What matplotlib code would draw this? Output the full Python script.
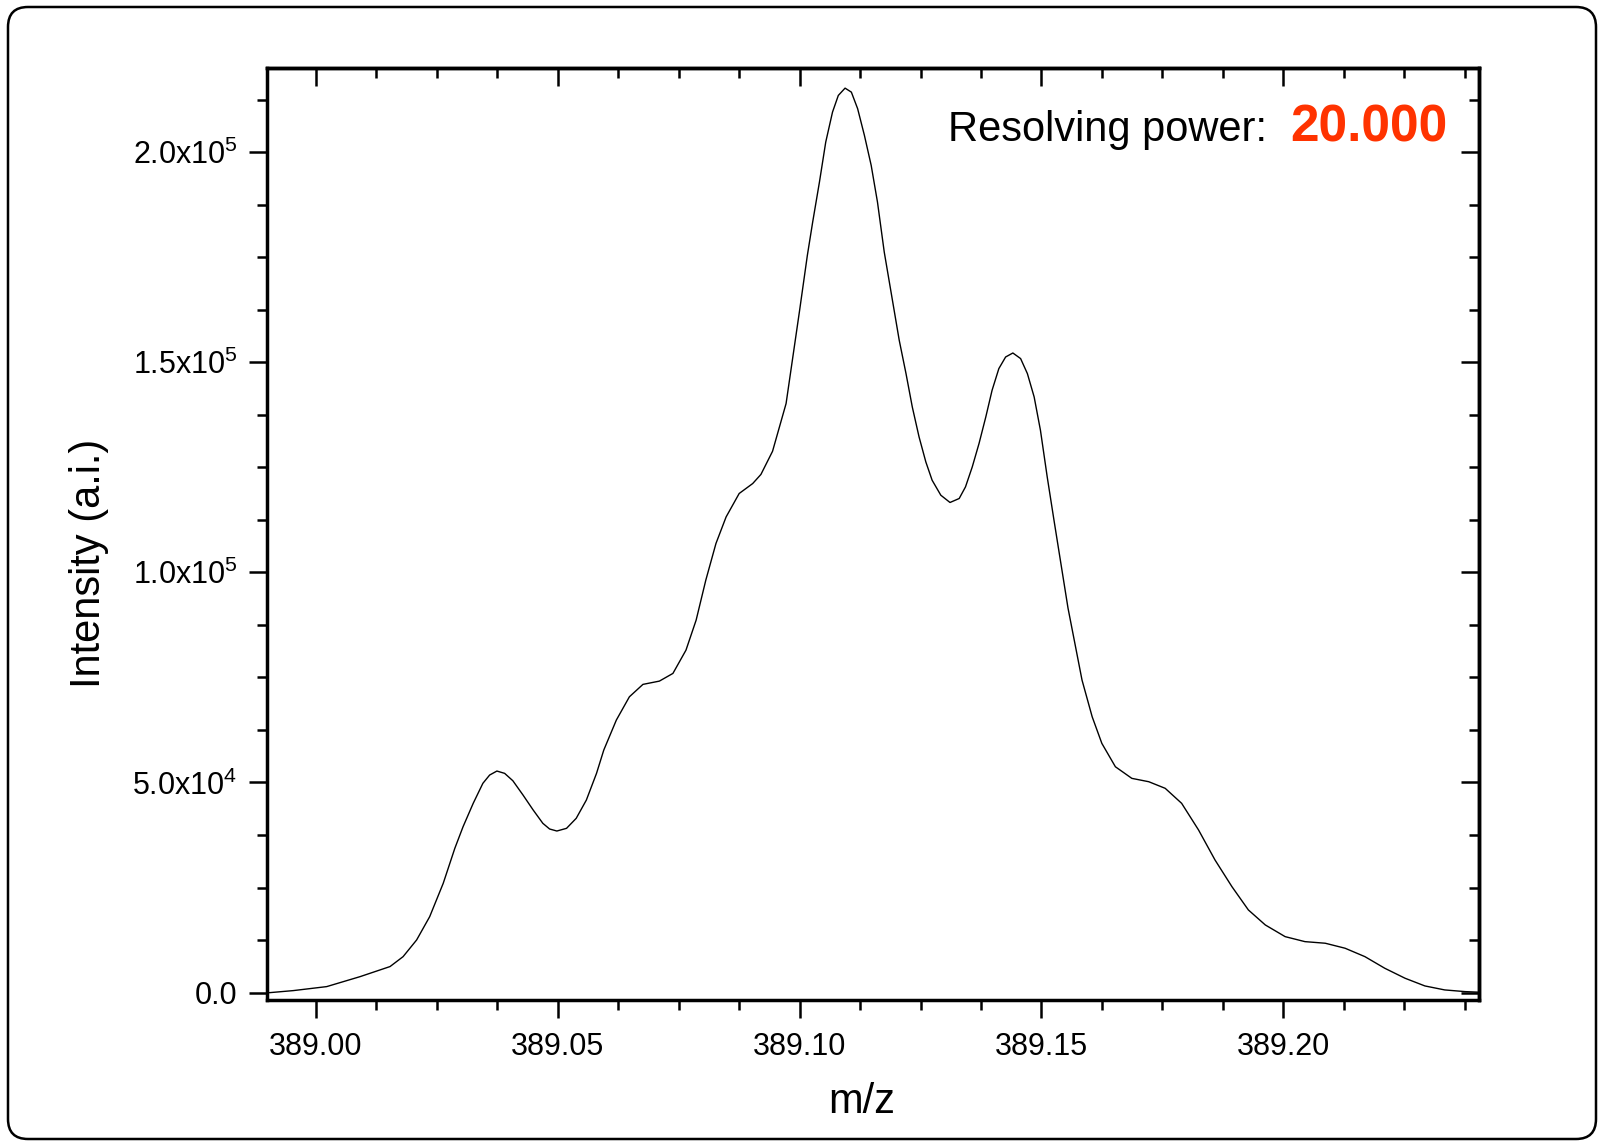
import matplotlib
matplotlib.use("Agg")
import matplotlib.pyplot as plt
from matplotlib.patches import FancyBboxPatch
from matplotlib.ticker import MultipleLocator, FixedLocator, FixedFormatter

plt.rcParams['font.family'] = ['Liberation Sans', 'DejaVu Sans']
plt.rcParams['mathtext.fontset'] = 'custom'
plt.rcParams['mathtext.rm'] = 'Liberation Sans'
plt.rcParams['mathtext.it'] = 'Liberation Sans'

# m/z values and intensities
mz = [388.9898, 388.9905, 388.9953, 389.0022, 389.0091, 389.0153, 389.0180,
      389.0208, 389.0235, 389.0263, 389.0287, 389.0304, 389.0325, 389.0345,
      389.0359, 389.0374, 389.0390, 389.0407, 389.0428, 389.0449, 389.0469,
      389.0483, 389.0498, 389.0518, 389.0538, 389.0559, 389.0580, 389.0595,
      389.0621, 389.0648, 389.0676, 389.0710, 389.0738, 389.0765, 389.0786,
      389.0806, 389.0827, 389.0848, 389.0875, 389.0903, 389.0920, 389.0944,
      389.0972, 389.1000, 389.1016, 389.1027, 389.1041, 389.1054, 389.1068,
      389.1080, 389.1094, 389.1107, 389.1120, 389.1134, 389.1148, 389.1161,
      389.1175, 389.1206, 389.1220, 389.1233, 389.1247, 389.1261, 389.1274,
      389.1292, 389.1311, 389.1330, 389.1343, 389.1357, 389.1371, 389.1385,
      389.1398, 389.1412, 389.1426, 389.1441, 389.1457, 389.1471, 389.1485,
      389.1498, 389.1512, 389.1526, 389.1555, 389.1584, 389.1605, 389.1625,
      389.1653, 389.1687, 389.1722, 389.1756, 389.1790, 389.1825, 389.1859,
      389.1894, 389.1928, 389.1963, 389.2004, 389.2045, 389.2087, 389.2128,
      389.2169, 389.2210, 389.2252, 389.2293, 389.2334, 389.2376, 389.2405]
intensity = [0, 0, 480, 1430, 3800, 6200, 8560,
             12530, 18070, 26010, 34340, 39470, 45040, 49800,
             51770, 52720, 52170, 50410, 47010, 43450, 40280,
             38930, 38450, 39090, 41470, 45820, 52170, 57710,
             64850, 70390, 73340, 74120, 75950, 81490, 88630,
             98140, 106870, 113190, 118760, 121130, 123300, 128800,
             140160, 162350, 175420, 183340, 192860, 202370, 209500,
             213470, 215210, 214260, 210310, 203960, 196830, 188100,
             176210, 155210, 147290, 139350, 132220, 126270, 121920,
             118350, 116620, 117570, 120330, 125080, 130650, 136970,
             143320, 148480, 151240, 152190, 150860, 147290, 141730,
             133810, 122710, 112410, 91500, 74360, 65630, 59300,
             53740, 50980, 50180, 48610, 45040, 38690, 31560,
             25210, 19670, 16100, 13320, 12130, 11750, 10560,
             8560, 5800, 3420, 1590, 640, 240, 100]

ytick_values = [0, 50000, 100000, 150000, 200000]
ytick_labels = ["0.0", "5.0x10$^{4}$", "1.0x10$^{5}$", "1.5x10$^{5}$", "2.0x10$^{5}$"]
label_text = "Resolving power:"
power_text = "20.000"


def style_ticks(axis_obj, direction, labels=True):
    axis_obj.set_tick_params(which='major', direction=direction, length=13, width=1.8,
                             labelsize=22, pad=8)
    axis_obj.set_tick_params(which='minor', direction=direction, length=7, width=1.8)
    if not labels:
        axis_obj.set_tick_params(which='both', labelleft=False, labelright=False,
                                 labeltop=False, labelbottom=False)


def main():
    fig = plt.figure(figsize=(16, 11.41), dpi=100)
    ax = fig.add_axes([0.1667, 0.1236, 0.7577, 0.8168])

    ax.plot(mz, intensity, color='black', lw=1.0)
    ax.set_xlim(388.9898, 389.2405)
    ax.set_ylim(-1750, 220000)

    ax.xaxis.set_major_locator(MultipleLocator(0.05))
    ax.xaxis.set_minor_locator(MultipleLocator(0.0125))
    ax.xaxis.set_major_formatter(plt.FormatStrFormatter('%.2f'))
    ax.yaxis.set_major_locator(FixedLocator(ytick_values))
    ax.yaxis.set_major_formatter(FixedFormatter(ytick_labels))
    ax.yaxis.set_minor_locator(MultipleLocator(12500))
    style_ticks(ax.xaxis, 'out')
    style_ticks(ax.yaxis, 'out')
    ax.tick_params(axis='x', pad=10)

    # mirrored inward ticks on top and right
    top = ax.secondary_xaxis('top')
    top.xaxis.set_major_locator(MultipleLocator(0.05))
    top.xaxis.set_minor_locator(MultipleLocator(0.0125))
    style_ticks(top.xaxis, 'in', labels=False)
    right = ax.secondary_yaxis('right')
    right.yaxis.set_major_locator(FixedLocator(ytick_values))
    right.yaxis.set_minor_locator(MultipleLocator(12500))
    style_ticks(right.yaxis, 'in', labels=False)

    for a in (ax, top, right):
        for sp in a.spines.values():
            sp.set_linewidth(2.5)

    ax.set_xlabel("m/z", fontsize=30)
    ax.xaxis.set_label_coords(0.491, -0.088)
    ax.set_ylabel("Intensity (a.i.)", fontsize=30)
    ax.yaxis.set_label_coords(-0.130, 0.469)

    ax.text(0.8250, 0.9215, label_text, transform=ax.transAxes, fontsize=30,
            ha='right', va='baseline')
    ax.text(0.9740, 0.9215, power_text, transform=ax.transAxes, fontsize=37,
            ha='right', va='baseline', color='#ff3300', fontweight='bold')

    border = FancyBboxPatch((0.08, 0.02), 15.88, 11.32,
                            boxstyle="round,pad=0,rounding_size=0.2",
                            transform=fig.dpi_scale_trans, fill=False,
                            edgecolor='black', lw=1.8)
    fig.patches.append(border)

    fig.savefig("out.png", dpi=100)


if __name__ == "__main__":
    main()
